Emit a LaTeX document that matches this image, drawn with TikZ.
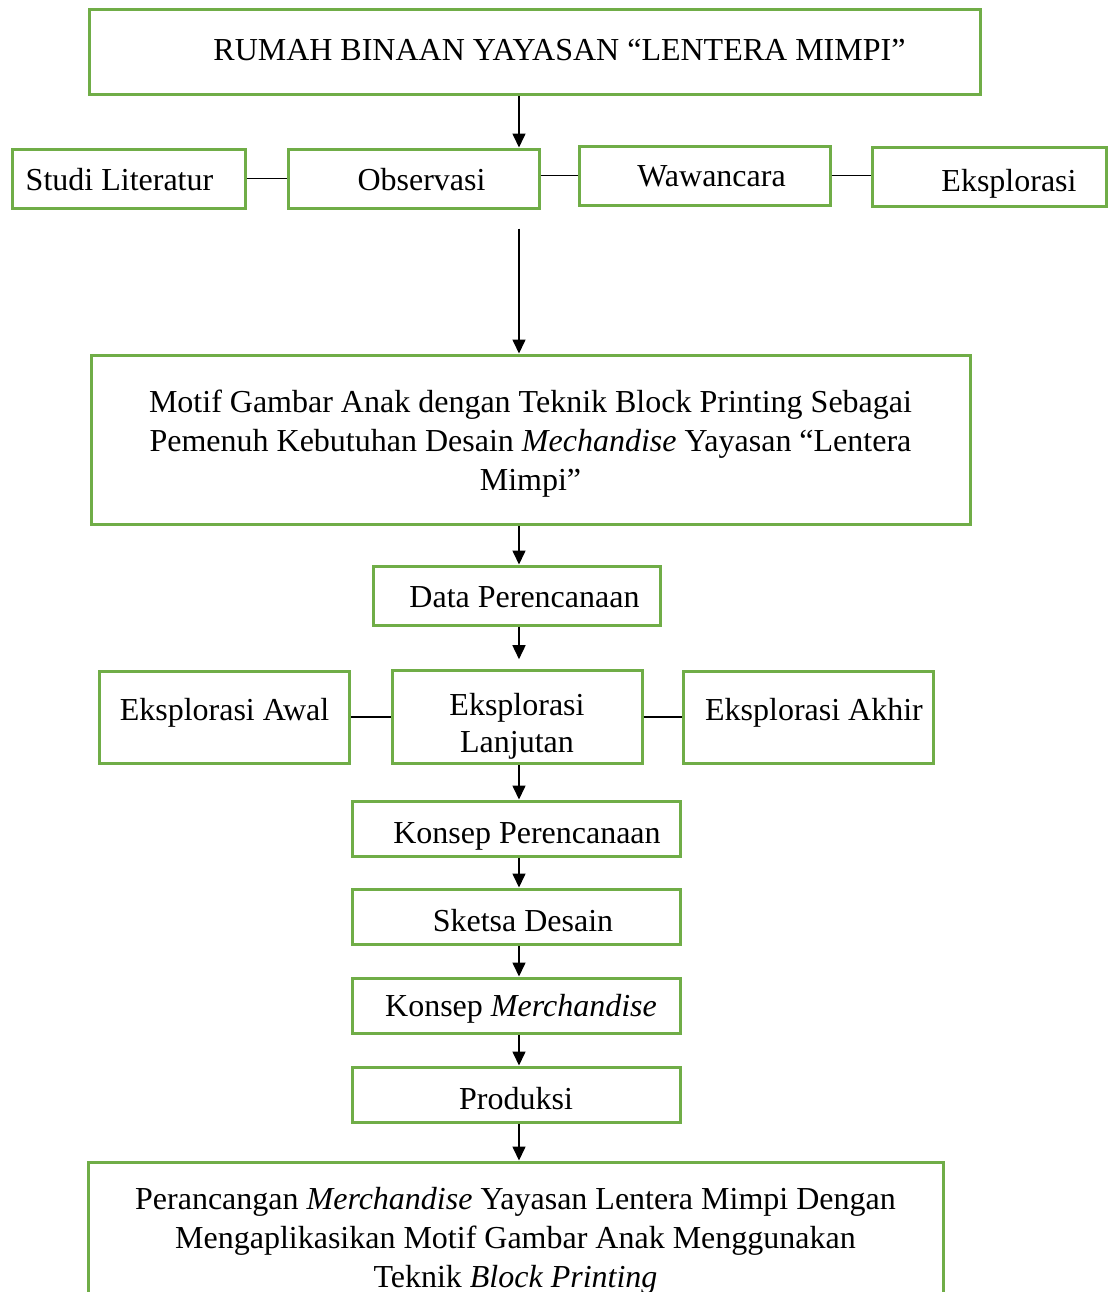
\documentclass[tikz,border=0pt]{standalone}
\usepackage{fontspec}
\setmainfont{Liberation Serif}
\usepackage{xcolor}
\usetikzlibrary{arrows.meta}
\definecolor{boxgreen}{HTML}{70AD47}

\begin{document}
\begin{tikzpicture}[x=0.5pt,y=-0.5pt,
  greenbox/.style={draw=boxgreen,line width=1.5pt,align=center,inner sep=2pt,
    font=\fontsize{16}{19.5}\selectfont},
  textline/.style={text height=#1,text depth=0pt},
  arr/.style={-{Triangle[width=6.5pt,length=7pt]},line width=0.8pt},
  link/.style={line width=0.9pt}]
\useasboundingbox (0,0) rectangle (1110,1292);
\clip (0,0) rectangle (1110,1292);
\coordinate (axis) at (519,0);
% top row
\node[greenbox,textline=8.5pt,minimum width=445.5pt,minimum height=42.5pt] (rumah) at (534.5,51.5)
  {\hspace*{25pt}RUMAH BINAAN YAYASAN “LENTERA MIMPI”};
\node[greenbox,textline=11.5pt,minimum width=116.5pt,minimum height=29.5pt] (studi) at (128.5,178.5) {Studi Literatur\hspace*{9pt}};
\node[greenbox,textline=11.5pt,minimum width=125.5pt,minimum height=29.5pt] (obs) at (413.5,178.5) {\hspace*{8pt}Observasi};
\node[greenbox,textline=11.2pt,minimum width=125.5pt,minimum height=29.5pt] (waw) at (704.5,175.5) {\hspace*{7pt}Wawancara};
\node[greenbox,textline=15.2pt,minimum width=117pt,minimum height=29.5pt] (eks) at (989,176.5) {\hspace*{20pt}Eksplorasi};
\draw[link] (studi.east) -- (obs.west);
\draw[link] (obs.east |- waw.west) -- (waw.west);
\draw[link] (waw.east) -- (waw.east -| eks.west);
% main flow
\node[greenbox,minimum width=439.5pt,minimum height=84.5pt] (motif) at (530.5,439.5)
  {\rule{0pt}{15pt}Motif Gambar Anak dengan Teknik Block Printing Sebagai\\
   Pemenuh Kebutuhan Desain \textit{Mechandise} Yayasan “Lentera\\
   Mimpi”};
\node[greenbox,textline=12.2pt,minimum width=143.5pt,minimum height=29.5pt] (data) at (516.5,595.5) {\hspace*{8pt}Data Perencanaan};
\node[greenbox,textline=3pt,minimum width=125pt,minimum height=46pt] (awal) at (224.5,717) {Eksplorasi Awal};
\node[greenbox,minimum width=125pt,minimum height=46pt,font=\fontsize{16}{18.5}\selectfont] (lanjut) at (517,717)
  {\rule{0pt}{20.4pt}Eksplorasi\\Lanjutan};
\node[greenbox,textline=3pt,minimum width=125pt,minimum height=46pt] (akhir) at (808,717) {\hspace*{6pt}Eksplorasi Akhir};
\draw[link] (awal.east) -- (lanjut.west);
\draw[link] (lanjut.east) -- (akhir.west);
\node[greenbox,textline=14.8pt,minimum width=164pt,minimum height=27.5pt] (konsep) at (516,828.5) {\hspace*{11pt}Konsep Perencanaan};
\node[greenbox,textline=15.2pt,minimum width=164pt,minimum height=27.5pt] (sketsa) at (516,916.5) {\hspace*{7pt}Sketsa Desain};
\node[greenbox,textline=11.2pt,minimum width=164pt,minimum height=27.5pt] (merch) at (516,1005.5) {\hspace*{5pt}Konsep \textit{Merchandise}};
\node[greenbox,textline=14.8pt,minimum width=164pt,minimum height=27.5pt] (prod) at (516,1094.5) {Produksi};
\node[greenbox,minimum width=427.5pt,minimum height=79pt] (hasil) at (515.5,1241)
  {Perancangan \textit{Merchandise} Yayasan Lentera Mimpi Dengan\\
   Mengaplikasikan Motif Gambar Anak Menggunakan\\
   Teknik \textit{Block Printing}};
% arrows
\draw[arr] (rumah.south -| axis) -- (obs.north -| axis);
\draw[arr] ([yshift=-9.5pt]obs.south -| axis) -- (motif.north -| axis);
\draw[arr] (motif.south -| axis) -- (data.north -| axis);
\draw[arr,shorten >=5pt] (data.south -| axis) -- (lanjut.north -| axis);
\draw[arr] (lanjut.south -| axis) -- (konsep.north -| axis);
\draw[arr] (konsep.south -| axis) -- (sketsa.north -| axis);
\draw[arr] (sketsa.south -| axis) -- (merch.north -| axis);
\draw[arr] (merch.south -| axis) -- (prod.north -| axis);
\draw[arr] (prod.south -| axis) -- (hasil.north -| axis);
\end{tikzpicture}
\end{document}
